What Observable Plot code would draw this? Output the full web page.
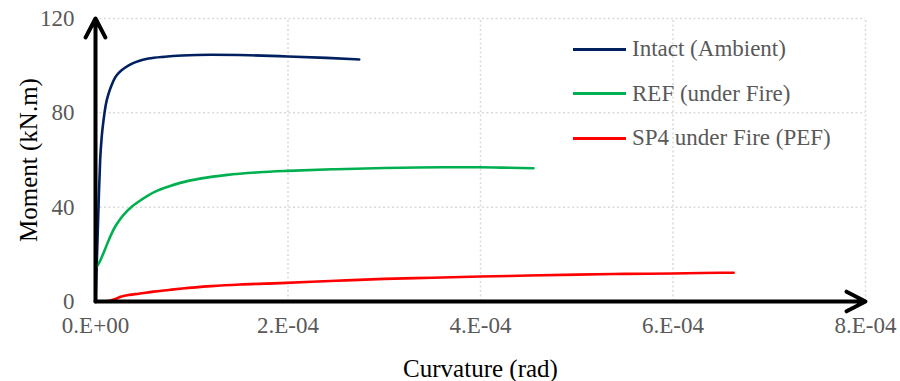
<!DOCTYPE html>
<html>
<head>
<meta charset="utf-8">
<script src="https://cdn.jsdelivr.net/npm/d3@7"></script>
<script src="https://cdn.jsdelivr.net/npm/@observablehq/plot@0.6"></script>
<style>
  html, body { margin: 0; padding: 0; background: #fff; }
  #wrap { position: relative; width: 900px; height: 381px; font-family: "Liberation Serif", "Times New Roman", serif; }
  #wrap svg text { font-family: "Liberation Serif", "Times New Roman", serif; }
  #wrap svg [aria-label="x-axis tick label"], #wrap svg [aria-label="y-axis tick label"] { font-size: 23px; fill: #595959; }
  #legend { position: absolute; left: 573px; top: 27px; color: #595959; font-size: 23px; }
  #legend .row { display: flex; align-items: center; height: 44.5px; white-space: nowrap; }
  #legend .sw { width: 53px; height: 3px; margin-right: 6px; }
</style>
</head>
<body>
<div id="wrap"><div id="legend"></div></div>
<script>
// Series: curvature in units of 1e-4 rad, moment in kN.m
const seriesNames = ["Intact (Ambient)", "REF (under Fire)", "SP4 under Fire (PEF)"];
const seriesColors = ["#002060", "#00B050", "#FF0000"];

const intactX = [0, 0.02, 0.035, 0.049, 0.065, 0.083, 0.105, 0.135, 0.17, 0.205, 0.25, 0.31, 0.38, 0.45, 0.55, 0.72, 0.9, 1.2, 1.6, 2.0, 2.4, 2.74];
const intactY = [0, 25, 45, 60.5, 70, 76.7, 83, 88, 92, 95, 97.3, 99.2, 100.9, 102, 103, 103.8, 104.3, 104.6, 104.4, 103.9, 103.3, 102.6];

const refX = [0, 0.002, 0.03, 0.065, 0.1, 0.135, 0.17, 0.205, 0.25, 0.31, 0.38, 0.45, 0.54, 0.62, 0.76, 0.88, 1.1, 1.37, 1.7, 2.0, 2.5, 3.0, 3.6, 4.0, 4.3, 4.55];
const refY = [0, 13.8, 15.8, 18.8, 22.3, 25.8, 29, 31.8, 34.6, 37.6, 40.3, 42.4, 44.8, 46.6, 48.8, 50.3, 52.2, 53.7, 54.8, 55.4, 56.1, 56.6, 56.9, 56.9, 56.7, 56.5];

const sp4X = [0, 0.08, 0.135, 0.2, 0.27, 0.35, 0.45, 0.6, 0.76, 0.9, 1.2, 1.5, 1.92, 2.5, 3.0, 3.5, 4.0, 4.5, 5.0, 5.5, 6.0, 6.3, 6.63];
const sp4Y = [0, 0, 0.2, 1.0, 2.1, 2.8, 3.3, 4.2, 4.9, 5.5, 6.5, 7.2, 7.8, 8.8, 9.6, 10.1, 10.6, 11.0, 11.4, 11.7, 11.9, 12.1, 12.2];

const xTicks = [0, 2e-4, 4e-4, 6e-4, 8e-4];
const xTickLabels = ["0.E+00", "2.E-04", "4.E-04", "6.E-04", "8.E-04"];
const yTicks = [0, 40, 80, 120];
const yGrid = [40, 80, 120];
const xGrid = [2e-4, 4e-4, 6e-4, 8e-4];

const scale = 1e-4;
const build = (xs, ys, name) => xs.map((x, i) => ({x: x * scale, y: ys[i], series: name}));
const data = [
  ...build(intactX, intactY, seriesNames[0]),
  ...build(refX, refY, seriesNames[1]),
  ...build(sp4X, sp4Y, seriesNames[2])
];

const gridStyle = {stroke: "#d9d9d9", strokeWidth: 1.5, strokeDasharray: "2,2.5", strokeOpacity: 1};

const chart = Plot.plot({
  width: 900,
  height: 381,
  marginLeft: 95,
  marginRight: 35,
  marginTop: 18,
  marginBottom: 80,
  style: {fontFamily: "'Liberation Serif', 'Times New Roman', serif", fontSize: "23px", background: "#fff"},
  x: {domain: [0, 8e-4]},
  y: {domain: [0, 120]},
  color: {domain: seriesNames, range: seriesColors},
  marks: [
    Plot.ruleY(yGrid, {...gridStyle, x1: 0, x2: 8e-4}),
    Plot.ruleX(xGrid, {...gridStyle, y1: 0, y2: 120}),
    Plot.axisX({ticks: xTicks, tickFormat: (d, i) => xTickLabels[i], tickSize: 0, tickPadding: 15, label: null, fill: "#595959", fontSize: 23}),
    Plot.axisY({ticks: yTicks, tickSize: 0, tickPadding: 21, label: null, fill: "#595959", fontSize: 23}),
    Plot.line(data, {x: "x", y: "y", z: "series", stroke: "series", strokeWidth: 2.6, curve: "monotone-x"}),
    Plot.arrow([{x1: 0, y1: 0, x2: 0, y2: 120}, {x1: 0, y1: 0, x2: 8e-4, y2: 0}], {
      x1: "x1", y1: "y1", x2: "x2", y2: "y2", stroke: "#000", strokeWidth: 4, headAngle: 55, headLength: 8
    }),
    Plot.text(["Curvature (rad)"], {frameAnchor: "bottom", lineAnchor: "middle", dy: 67, fontSize: 25, fill: "#000"}),
    Plot.text(["Moment (kN.m)"], {frameAnchor: "left", textAnchor: "middle", lineAnchor: "middle", dx: -67, rotate: -90, fontSize: 25, fill: "#000"})
  ]
});
document.getElementById("wrap").prepend(chart);

const legend = document.getElementById("legend");
seriesNames.forEach((n, i) => {
  const row = document.createElement("div");
  row.className = "row";
  const sw = document.createElement("div");
  sw.className = "sw";
  sw.style.background = seriesColors[i];
  const t = document.createElement("span");
  t.textContent = n;
  row.appendChild(sw);
  row.appendChild(t);
  legend.appendChild(row);
});
</script>
</body>
</html>
